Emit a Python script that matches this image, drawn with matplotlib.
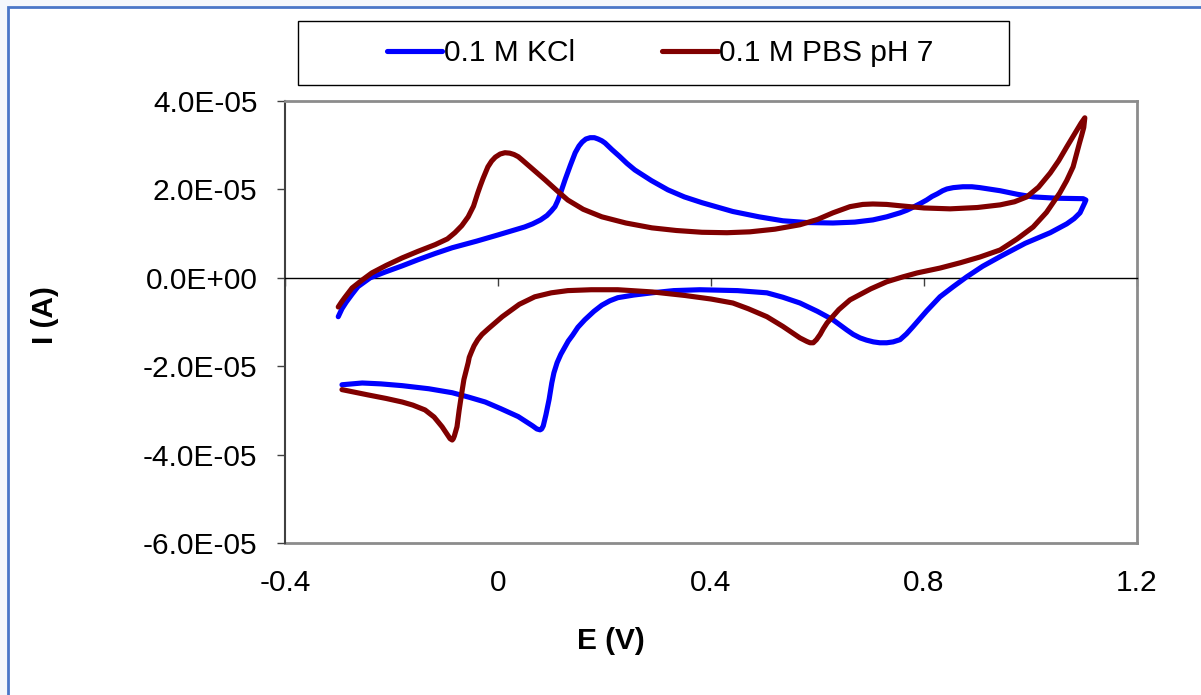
import numpy as np
import matplotlib.pyplot as plt
from matplotlib.patches import Rectangle

plt.rcParams['font.family'] = ['Liberation Sans', 'DejaVu Sans']

# prad w jednostkach 1E-05 A
skala = 1e-5

kcl_E = [-0.300, -0.293, -0.285, -0.274, -0.263, -0.240, -0.212, -0.180, -0.150, -0.118,
         -0.086, -0.040, 0.000, 0.050, 0.065, 0.080, 0.092, 0.100, 0.107, 0.112,
         0.117, 0.126, 0.136, 0.145, 0.152, 0.158, 0.165, 0.173, 0.181, 0.188,
         0.195, 0.201, 0.214, 0.228, 0.242, 0.257, 0.288, 0.319, 0.350, 0.383,
         0.441, 0.490, 0.535, 0.580, 0.629, 0.670, 0.704, 0.730, 0.755, 0.768,
         0.780, 0.793, 0.805, 0.815, 0.825, 0.835, 0.843, 0.855, 0.873, 0.890,
         0.905, 0.943, 0.975, 1.005, 1.050, 1.099, 1.104,
         1.102, 1.098, 1.093, 1.082, 1.068, 1.037, 0.990, 0.943, 0.910, 0.880,
         0.855, 0.830, 0.805, 0.779, 0.767, 0.755, 0.742, 0.730, 0.717, 0.705,
         0.692, 0.680, 0.667, 0.655, 0.629, 0.600, 0.567, 0.535, 0.505, 0.450,
         0.379, 0.330, 0.289, 0.255, 0.225, 0.210, 0.195, 0.180, 0.163, 0.150,
         0.140, 0.132, 0.126, 0.118, 0.111, 0.105, 0.101, 0.096, 0.090, 0.085,
         0.082, 0.079, 0.073, 0.065, 0.038, 0.005, -0.024, -0.055, -0.086, -0.130,
         -0.180, -0.220, -0.255, -0.293]
kcl_I = [-0.88, -0.70, -0.55, -0.37, -0.20, 0.00, 0.13, 0.27, 0.41, 0.55,
         0.68, 0.83, 0.97, 1.15, 1.22, 1.31, 1.41, 1.51, 1.61, 1.74,
         1.90, 2.22, 2.55, 2.83, 2.98, 3.07, 3.14, 3.17, 3.17, 3.14,
         3.10, 3.05, 2.90, 2.75, 2.59, 2.44, 2.20, 1.99, 1.83, 1.70,
         1.50, 1.38, 1.29, 1.25, 1.24, 1.26, 1.31, 1.38, 1.47, 1.53,
         1.60, 1.68, 1.76, 1.84, 1.90, 1.97, 2.01, 2.04, 2.06, 2.06,
         2.04, 1.97, 1.89, 1.83, 1.80, 1.79, 1.76,
         1.70, 1.60, 1.47, 1.34, 1.22, 1.02, 0.78, 0.48, 0.26, 0.02,
         -0.20, -0.43, -0.75, -1.11, -1.27, -1.40, -1.45, -1.47, -1.47, -1.45,
         -1.41, -1.36, -1.28, -1.18, -0.95, -0.76, -0.57, -0.44, -0.34, -0.29,
         -0.27, -0.29, -0.34, -0.39, -0.45, -0.52, -0.62, -0.76, -0.95, -1.12,
         -1.30, -1.43, -1.56, -1.73, -1.92, -2.15, -2.38, -2.75, -3.10, -3.35,
         -3.42, -3.44, -3.42, -3.35, -3.14, -2.96, -2.81, -2.70, -2.60, -2.51,
         -2.44, -2.40, -2.38, -2.42]

pbs_E = [-0.300, -0.294, -0.288, -0.281, -0.274, -0.255, -0.237, -0.210, -0.180, -0.150,
         -0.118, -0.095, -0.081, -0.068, -0.056, -0.046, -0.038, -0.033, -0.028, -0.019,
         -0.012, -0.005, 0.004, 0.013, 0.022, 0.030, 0.038, 0.045, 0.065, 0.088,
         0.110, 0.131, 0.160, 0.195, 0.240, 0.289, 0.335, 0.383, 0.430, 0.473,
         0.520, 0.567, 0.600, 0.629, 0.661, 0.685, 0.704, 0.730, 0.755, 0.800,
         0.849, 0.900, 0.943, 0.970, 0.993, 1.015, 1.037, 1.053, 1.068, 1.085,
         1.095, 1.102,
         1.100, 1.096, 1.092, 1.086, 1.080, 1.068, 1.055, 1.030, 1.005, 0.975,
         0.943, 0.905, 0.868, 0.830, 0.787, 0.760, 0.730, 0.700, 0.661, 0.640,
         0.618, 0.611, 0.605, 0.598, 0.592, 0.586, 0.580, 0.567, 0.535, 0.505,
         0.470, 0.441, 0.400, 0.351, 0.290, 0.225, 0.175, 0.131, 0.100, 0.069,
         0.040, 0.008, -0.018, -0.030, -0.038, -0.045, -0.050, -0.054, -0.056, -0.064,
         -0.068, -0.073, -0.077, -0.080, -0.082, -0.084, -0.086, -0.090, -0.095, -0.100,
         -0.105, -0.120, -0.137, -0.160, -0.180, -0.210, -0.244, -0.293]
pbs_I = [-0.66, -0.55, -0.45, -0.34, -0.23, -0.05, 0.11, 0.28, 0.45, 0.60,
         0.75, 0.88, 1.02, 1.18, 1.38, 1.62, 1.92, 2.09, 2.25, 2.51,
         2.64, 2.73, 2.80, 2.83, 2.82, 2.79, 2.74, 2.67, 2.46, 2.22,
         1.98, 1.76, 1.55, 1.38, 1.24, 1.13, 1.07, 1.03, 1.02, 1.04,
         1.10, 1.20, 1.32, 1.47, 1.61, 1.66, 1.67, 1.66, 1.63, 1.58,
         1.56, 1.59, 1.65, 1.72, 1.83, 2.05, 2.37, 2.65, 2.96, 3.30,
         3.50, 3.62,
         3.40, 3.22, 3.05, 2.78, 2.51, 2.20, 1.92, 1.48, 1.15, 0.88,
         0.63, 0.47, 0.34, 0.22, 0.11, 0.02, -0.09, -0.25, -0.50, -0.72,
         -1.02, -1.15, -1.28, -1.40, -1.47, -1.47, -1.44, -1.36, -1.10, -0.88,
         -0.70, -0.57, -0.48, -0.40, -0.32, -0.27, -0.27, -0.29, -0.34, -0.43,
         -0.60, -0.88, -1.15, -1.28, -1.40, -1.54, -1.68, -1.80, -1.92, -2.30,
         -2.60, -3.00, -3.37, -3.50, -3.58, -3.64, -3.67, -3.64, -3.55, -3.46,
         -3.37, -3.15, -2.99, -2.88, -2.81, -2.73, -2.65, -2.53]

x_ticki = [-0.4, 0.0, 0.4, 0.8, 1.2]
x_etykiety = ['-0.4', '0', '0.4', '0.8', '1.2']
y_ticki = [-6, -4, -2, 0, 2, 4]

rozm = 21.5

fig = plt.figure(figsize=(12.01, 6.95), dpi=100)
fig.patch.set_facecolor('#f4f7fc')
ramka = Rectangle((7.5 / 1201, -0.02), 1.05, 1.02 - 6.5 / 695, transform=fig.transFigure,
                  facecolor='white', edgecolor='#4a76c8', linewidth=2.0, zorder=0)
fig.add_artist(ramka)

ax = fig.add_axes([285 / 1201, 1 - 543 / 695, 852 / 1201, 442 / 695])

ax.plot(kcl_E, np.array(kcl_I) * skala, color='#0000ff', lw=3.7, label='0.1 M KCl',
        solid_capstyle='round', solid_joinstyle='round', zorder=3)
ax.plot(pbs_E, np.array(pbs_I) * skala, color='#800000', lw=3.7, label='0.1 M PBS pH 7',
        solid_capstyle='round', solid_joinstyle='round', zorder=3)

ax.set_xlim(-0.4, 1.2)
ax.set_ylim(-6 * skala, 4 * skala)

# os x przechodzi przez zero, etykiety na dole
ax.spines['bottom'].set_position(('data', 0))
ax.spines['bottom'].set_color('black')
ax.spines['bottom'].set_linewidth(1.0)
ax.spines['left'].set_color('#404040')
ax.spines['left'].set_linewidth(1.5)
for s in ['top', 'right']:
    ax.spines[s].set_color('#8c8c8c')
    ax.spines[s].set_linewidth(2.0)

ax.set_xticks(x_ticki)
ax.tick_params(axis='x', labelbottom=False, length=5.8, width=1.0, color='#404040',
               direction='out')

dol = ax.secondary_xaxis('bottom')
dol.set_xticks(x_ticki)
dol.set_xticklabels(x_etykiety)
dol.tick_params(length=0, pad=19, labelsize=rozm)
dol.spines['bottom'].set_color('#8c8c8c')
dol.spines['bottom'].set_linewidth(2.0)

ax.set_yticks([v * skala for v in y_ticki])
ax.set_yticklabels([f'{v * skala:.1E}' for v in y_ticki])
ax.tick_params(axis='y', length=5.8, width=1.0, color='#404040', pad=14, labelsize=rozm)

ax.set_ylabel('I (A)', fontsize=rozm, fontweight='bold')
ax.yaxis.set_label_coords((45 - 285) / 852, (543 - 315) / 442)
ax.yaxis.label.set_va('center')
ax.set_xlabel('E (V)', fontsize=rozm, fontweight='bold')
ax.xaxis.set_label_coords((611 - 285) / 852, (543 - 641) / 442)
ax.xaxis.label.set_va('center')

fig.legend(loc='center', bbox_to_anchor=(660 / 1201, 1 - 53 / 695), ncol=2, frameon=False,
           fontsize=rozm, handlelength=1.87, handletextpad=0.05, columnspacing=2.9,
           borderpad=0)
fig.add_artist(Rectangle((298 / 1201, 1 - 85 / 695), 711 / 1201, 64 / 695,
                         transform=fig.transFigure, facecolor='none',
                         edgecolor='black', linewidth=1.0))

fig.savefig('out.png', dpi=100)
